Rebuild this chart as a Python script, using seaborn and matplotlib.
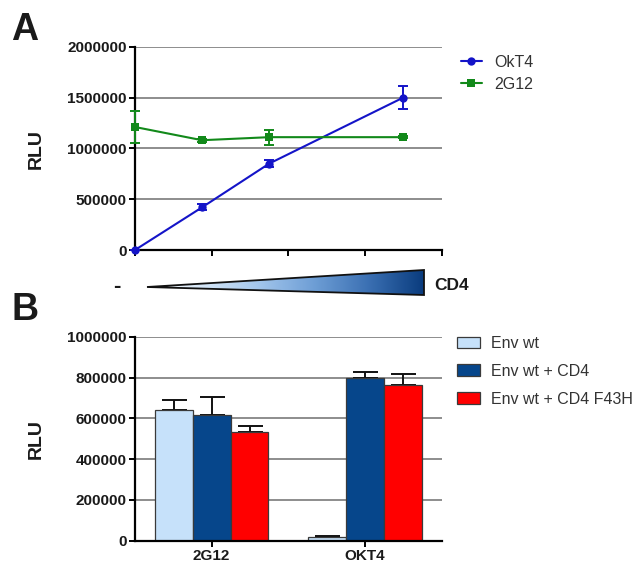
import numpy as np
import pandas as pd
import matplotlib
matplotlib.use("Agg")
import matplotlib.pyplot as plt
import seaborn as sns
from matplotlib.colors import LinearSegmentedColormap
from matplotlib.patches import Polygon
from matplotlib.lines import Line2D
from matplotlib.patches import Patch

# ---------------- data ----------------
# Panel A: luciferase signal vs increasing CD4
cd4_level = [0, 0.875, 1.75, 3.5]
okt4_mean = [0, 420000, 850000, 1500000]
okt4_err = [0, 30000, 35000, 115000]
g12_mean = [1210000, 1080000, 1110000, 1110000]
g12_err = [160000, 15000, 73000, 10000]
a_yticks = [0, 500000, 1000000, 1500000, 2000000]
a_yticklabels = ["0", "500000", "1000000", "1500000", "2000000"]

# Panel B: grouped bars
antibodies = ["2G12", "OKT4"]
conditions = ["Env wt", "Env wt + CD4", "Env wt + CD4 F43H"]
env_wt = [640000, 17000]
env_wt_cd4 = [615000, 800000]
env_wt_f43h = [535000, 765000]
env_wt_err = [50000, 5000]
env_wt_cd4_err = [88000, 25000]
env_wt_f43h_err = [27000, 53000]
b_yticks = [0, 200000, 400000, 600000, 800000, 1000000]
b_yticklabels = ["0", "200000", "400000", "600000", "800000", "1000000"]

bar_colors = ["#c6e1fa", "#06468b", "#ff0000"]
blue_line = "#1414c8"
green_line = "#12891a"

# ---------------- style ----------------
sns.set_theme(style="white")
plt.rcParams["font.family"] = ["Liberation Sans", "DejaVu Sans"]

W, H = 639, 563
fig = plt.figure(figsize=(W / 100, H / 100), dpi=100)


def fig_rect(x0, y0, x1, y1):
    """pixel box (top-left origin) -> figure fraction rect"""
    return [x0 / W, 1 - y1 / H, (x1 - x0) / W, (y1 - y0) / H]


def style_axes(ax):
    for s in ["top", "right"]:
        ax.spines[s].set_visible(False)
    for s in ["left", "bottom"]:
        ax.spines[s].set_color("black")
        ax.spines[s].set_linewidth(1.6)
    ax.yaxis.grid(True, color="#7a7a7a", linewidth=1.2)
    ax.xaxis.grid(False)
    ax.set_axisbelow(True)
    ax.tick_params(axis="both", direction="out", length=4.5, width=1.4,
                   color="black", labelsize=11, pad=1.5,
                   left=True, bottom=True, labelcolor="#1a1a1a")
    for lab in ax.get_yticklabels() + ax.get_xticklabels():
        lab.set_fontweight("bold")


# ---------------- panel A ----------------
axA = fig.add_axes(fig_rect(135, 46.7, 441.7, 250))
dfA = pd.DataFrame({
    "cd4": cd4_level * 2,
    "rlu": okt4_mean + g12_mean,
    "mab": ["OkT4"] * len(cd4_level) + ["2G12"] * len(cd4_level),
})
sns.lineplot(data=dfA, x="cd4", y="rlu", hue="mab", style="mab",
             palette={"OkT4": blue_line, "2G12": green_line},
             markers={"OkT4": "o", "2G12": "s"}, dashes=False,
             markersize=6, markeredgewidth=0, linewidth=1.5,
             ax=axA, legend=False, clip_on=False, zorder=3)
axA.errorbar(cd4_level, okt4_mean, yerr=okt4_err, fmt="none",
             ecolor=blue_line, elinewidth=1.4, capsize=3.5, capthick=1.4,
             clip_on=False, zorder=3)
axA.errorbar(cd4_level, g12_mean, yerr=g12_err, fmt="none",
             ecolor=green_line, elinewidth=1.4, capsize=3.5, capthick=1.4,
             clip_on=False, zorder=3)
axA.set_xlim(0, 4)
axA.set_ylim(0, 2000000)
axA.set_xticks([0, 1, 2, 3, 4])
axA.set_xticklabels([""] * 5)
axA.set_yticks(a_yticks)
axA.set_yticklabels(a_yticklabels)
axA.set_xlabel("")
axA.set_ylabel("")
style_axes(axA)

legA = [
    Line2D([0], [0], color=blue_line, lw=1.5, marker="o", markersize=6,
           markeredgewidth=0, label="OkT4"),
    Line2D([0], [0], color=green_line, lw=1.5, marker="s", markersize=6,
           markeredgewidth=0, label="2G12"),
]
fig.legend(handles=legA, loc="upper left",
           bbox_to_anchor=(461 / W, 1 - 55 / H), frameon=False,
           fontsize=11.5, handlelength=1.3, handletextpad=0.8,
           labelspacing=0.42, borderaxespad=0, borderpad=0,
           labelcolor="#333333")

# CD4 gradient wedge under panel A
axT = fig.add_axes(fig_rect(140, 265, 430, 300))
axT.set_xlim(140, 430)
axT.set_ylim(300, 265)
axT.axis("off")
cmap = LinearSegmentedColormap.from_list(
    "cd4", ["#ffffff", "#d6e7f8", "#a3c6ec", "#6f9fd6", "#3b70b3", "#0a3c7e"])
grad = np.linspace(0, 1, 256)[None, :]
img = axT.imshow(grad, cmap=cmap, aspect="auto",
                 extent=(147, 424, 295, 270))
wedge = Polygon([(147, 287), (424, 270), (424, 295)], closed=True,
                facecolor="none", edgecolor="#111111", linewidth=1.3)
axT.add_patch(wedge)
img.set_clip_path(wedge)

fig.text(117 / W, 1 - 287 / H, "-", fontsize=16, fontweight="bold",
         ha="center", va="center", color="#1a1a1a")
fig.text(434 / W, 1 - 286 / H, "CD4", fontsize=12.5, fontweight="bold",
         ha="left", va="center", color="#1a1a1a")

# ---------------- panel B ----------------
axB = fig.add_axes(fig_rect(135, 336.7, 441.7, 540.7))
dfB = pd.DataFrame({
    "mab": antibodies * 3,
    "rlu": env_wt + env_wt_cd4 + env_wt_f43h,
    "cond": [c for c in conditions for _ in antibodies],
})
sns.barplot(data=dfB, x="mab", y="rlu", hue="cond", hue_order=conditions,
            order=antibodies, palette=dict(zip(conditions, bar_colors)),
            width=0.74, edgecolor="#3a3a3a", linewidth=0.9,
            saturation=1, errorbar=None, ax=axB, legend=False, zorder=2)

# upward-only error bars placed on the drawn bars
errs = {conditions[0]: env_wt_err, conditions[1]: env_wt_cd4_err,
        conditions[2]: env_wt_f43h_err}
vals = {conditions[0]: env_wt, conditions[1]: env_wt_cd4,
        conditions[2]: env_wt_f43h}
nh = len(conditions)
bw = 0.74 / nh
for hi, cond in enumerate(conditions):
    xs = [i + (hi - (nh - 1) / 2) * bw for i in range(len(antibodies))]
    axB.errorbar(xs, vals[cond], yerr=[[0] * len(xs), errs[cond]],
                 fmt="none", ecolor="#111111", elinewidth=1.4,
                 capsize=9, capthick=1.4, zorder=1)

axB.set_xlim(-0.5, 1.5)
axB.set_ylim(0, 1000000)
axB.set_yticks(b_yticks)
axB.set_yticklabels(b_yticklabels)
axB.set_xlabel("")
axB.set_ylabel("")
style_axes(axB)

legB = [Patch(facecolor=c, edgecolor="#3a3a3a", linewidth=0.9, label=l)
        for c, l in zip(bar_colors, conditions)]
fig.legend(handles=legB, loc="upper left",
           bbox_to_anchor=(457 / W, 1 - 336 / H), frameon=False,
           fontsize=11.5, handlelength=1.45, handleheight=0.75,
           handletextpad=0.7, labelspacing=0.8, borderaxespad=0,
           borderpad=0, labelcolor="#333333")

# axis titles and panel letters
for yc in (149, 439):
    fig.text(36 / W, 1 - yc / H, "RLU", rotation=90, fontsize=14,
             fontweight="bold", ha="center", va="center", color="#1a1a1a")
fig.text(11 / W, 1 - 12 / H, "A", fontsize=27, fontweight="bold",
         ha="left", va="top", color="#1a1a1a")
fig.text(12 / W, 1 - 292 / H, "B", fontsize=27, fontweight="bold",
         ha="left", va="top", color="#1a1a1a")

fig.savefig("out.png", dpi=100)
